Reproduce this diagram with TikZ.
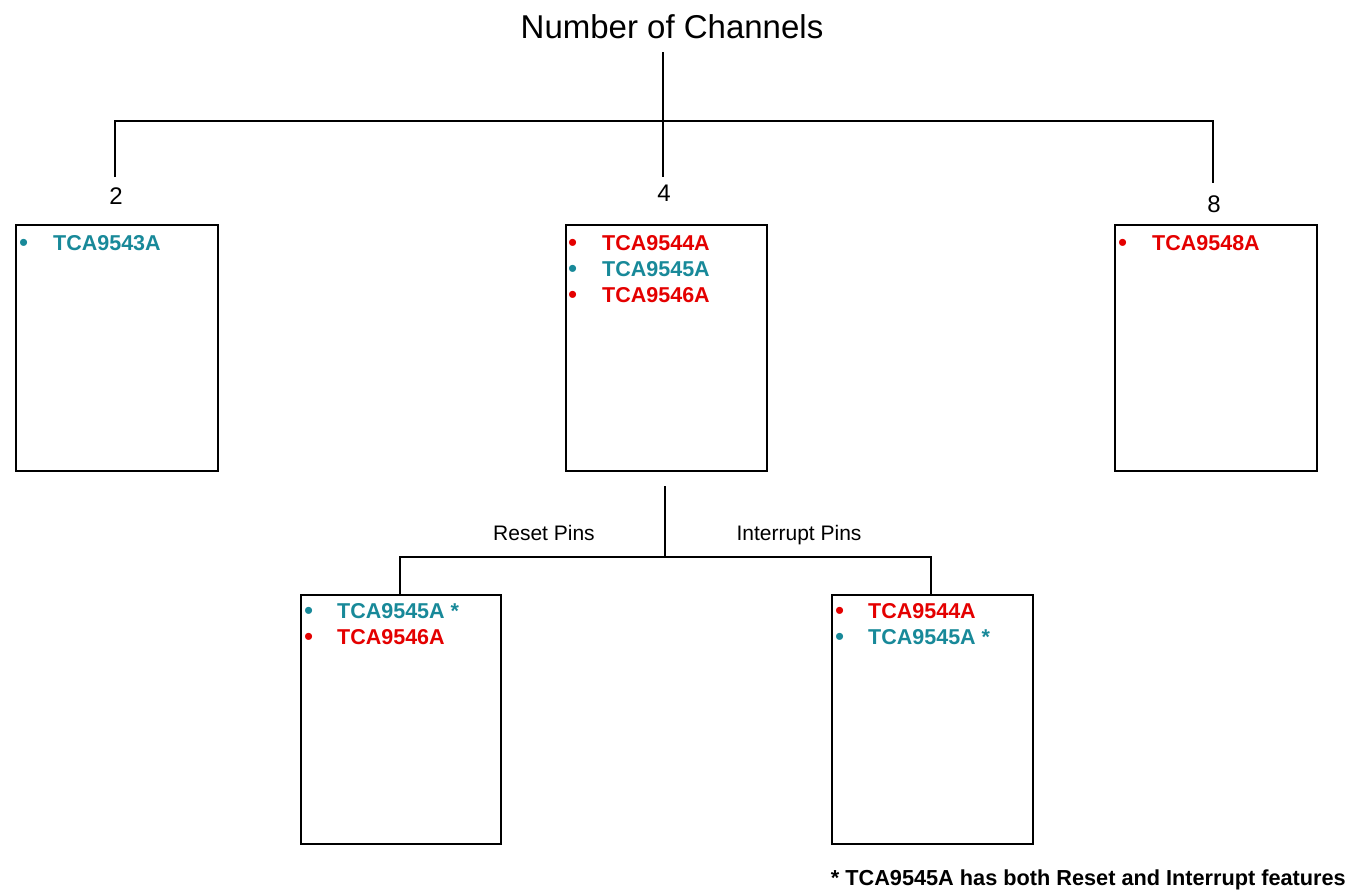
\documentclass[tikz,border=0pt]{standalone}
\usepackage{fontspec}
\setmainfont{Liberation Sans}
\definecolor{tiTeal}{RGB}{24,137,153}
\definecolor{tiRed}{RGB}{228,0,0}
\newcommand{\blt}[1]{\makebox[#1][l]{\raisebox{-1pt}{\mdseries\fontsize{26}{26}\selectfont •}}}
\begin{document}
\begin{tikzpicture}[x=1pt,y=-1pt,
  conn/.style={draw=black,line width=2pt},
  pbox/.style={draw=black,line width=2pt,rectangle,inner sep=0pt,anchor=north west},
  item/.style={anchor=base west,inner sep=0pt,font=\fontsize{21.5}{26}\selectfont\bfseries},
  lbl/.style={inner sep=0pt,font=\fontsize{24}{28}\selectfont},
  pinlbl/.style={inner sep=0pt,anchor=base,font=\fontsize{21}{25}\selectfont}]
\useasboundingbox (0,0) rectangle (1364,892);
% title
\node[inner sep=0pt,font=\fontsize{33}{38}\selectfont] (title) at (672,27) {Number of Channels};
% top boxes
\node[pbox,minimum width=202pt,minimum height=246pt] (b2) at (15,224) {};
\node[pbox,minimum width=201pt,minimum height=246pt] (b4) at (565,224) {};
\node[pbox,minimum width=202pt,minimum height=246pt] (b8) at (1114,224) {};
% bottom boxes
\node[pbox,minimum width=200pt,minimum height=249pt] (br) at (300,594) {};
\node[pbox,minimum width=201pt,minimum height=249pt] (bi) at (831,594) {};
% channel labels
\node[lbl] (l2) at (116,196) {2};
\node[lbl] (l4) at (664,193) {4};
\node[lbl] (l8) at (1214,204) {8};
% connector coordinates
\coordinate (tbot) at (663,52);
\coordinate (hub) at (663,121);
\coordinate (hl) at (115,121);
\coordinate (hr) at (1213,121);
\coordinate (dl) at (115,177);
\coordinate (dm) at (663,177);
\coordinate (dr) at (1213,183);
\draw[conn] (tbot) -- (dm);
\draw[conn] (dl) -- (hl) -- (hr) -- (dr);
\coordinate (m0) at (665,486);
\coordinate (mhub) at (665,557);
\coordinate (ml) at (400,557);
\coordinate (mr) at (931,557);
\draw[conn] (m0) -- (mhub);
\draw[conn] (br.north west -| ml) -- (ml) -- (mr) -- (bi.north west -| mr);
\node[pinlbl] (rp) at (544,540) {Reset Pins};
\node[pinlbl] (ip) at (799,540) {Interrupt Pins};
% box texts
\node[item,text=tiTeal] (t2a) at (19,250.5) {\blt{34pt}TCA9543A};
\node[item,text=tiRed] (t4a) at (568,250.5) {\blt{34pt}TCA9544A};
\node[item,text=tiTeal] (t4b) at (568,276.5) {\blt{34pt}TCA9545A};
\node[item,text=tiRed] (t4c) at (568,302.5) {\blt{34pt}TCA9546A};
\node[item,text=tiRed] (t8a) at (1118,250.5) {\blt{34pt}TCA9548A};
\node[item,text=tiTeal] (tra) at (304,618.5) {\blt{33pt}TCA9545A *};
\node[item,text=tiRed] (trb) at (304,644.5) {\blt{33pt}TCA9546A};
\node[item,text=tiRed] (tia) at (835,618.5) {\blt{33pt}TCA9544A};
\node[item,text=tiTeal] (tib) at (835,644.5) {\blt{33pt}TCA9545A *};
% footnote
\node[anchor=base east,inner sep=0pt,font=\fontsize{21.7}{26}\selectfont\bfseries] (fn) at (1346,885) {* TCA9545A has both Reset and Interrupt features};
\end{tikzpicture}
\end{document}
